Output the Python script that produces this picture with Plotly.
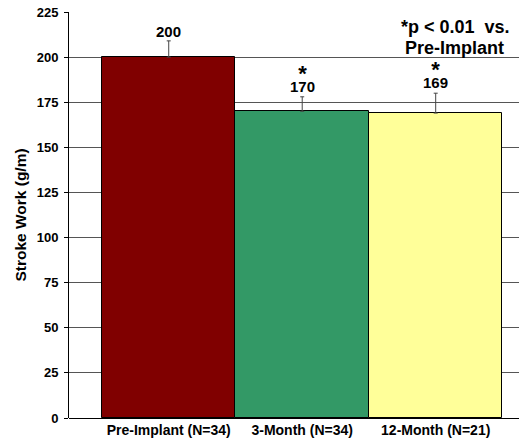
import plotly.graph_objects as go

categories = ["Pre-Implant (N=34)", "3-Month (N=34)", "12-Month (N=21)"]
values = [200, 170, 169]
errors = [9, 8, 11]
stars = ["", "*", "*"]
colors = ["#800000", "#339966", "#FFFF99"]
y_ticks = [0, 25, 50, 75, 100, 125, 150, 175, 200, 225]
note_lines = ["*p &lt; 0.01  vs.", "Pre-Implant"]

FONT = "Liberation Sans, Arial, sans-serif"

fig = go.Figure()
fig.add_trace(go.Bar(
    x=list(range(len(categories))),
    y=values,
    marker=dict(color=colors, line=dict(color="black", width=1)),
    width=1.0,
    error_y=dict(type="data", array=errors, arrayminus=[0] * len(errors),
                 symmetric=False, color="#444", thickness=1, width=2),
    showlegend=False,
    hoverinfo="skip",
))

for i, (v, e, s) in enumerate(zip(values, errors, stars)):
    if s:
        txt = ("<span style='font-size:22px'><b>%s</b></span><br>"
               "<span style='font-size:15px'><b>%d</b></span>") % (s, v)
        size = 8.4
        shift = 0
    else:
        txt = "<b>%d</b>" % v
        size = 15
        shift = -1
    fig.add_annotation(x=i, y=v + e, yshift=shift, text=txt,
                       showarrow=False, yanchor="bottom", align="center",
                       font=dict(family=FONT, size=size, color="black"))

fig.add_annotation(xref="x", yref="y", x=2.15, y=216.7, text="<b>%s</b>" % note_lines[0],
                   showarrow=False, xanchor="center", yanchor="middle",
                   font=dict(family=FONT, size=18, color="black"))
fig.add_annotation(xref="x", yref="y", x=2.14, y=205.0, text="<b>%s</b>" % note_lines[1],
                   showarrow=False, xanchor="center", yanchor="middle",
                   font=dict(family=FONT, size=18, color="black"))

fig.update_layout(
    width=519, height=442,
    margin=dict(l=69, r=0, t=12, b=24),
    paper_bgcolor="white", plot_bgcolor="white",
    font=dict(family=FONT, color="black"),
    bargap=0,
    xaxis=dict(
        range=[-0.747, 2.624],
        tickmode="array",
        tickvals=list(range(len(categories))),
        ticktext=["<b>%s</b>" % c for c in categories],
        tickfont=dict(family=FONT, size=14, color="black"),
        ticklabelstandoff=2,
        showgrid=False, zeroline=False, showline=False, ticks="",
        fixedrange=True,
    ),
    yaxis=dict(
        range=[0, 225],
        tickmode="array",
        tickvals=y_ticks,
        ticktext=["<b>%d</b>" % t for t in y_ticks],
        tickfont=dict(family=FONT, size=13, color="black"),
        ticklabelstandoff=3,
        ticks="outside", ticklen=4, tickcolor="black",
        showgrid=True, gridcolor="#555", gridwidth=1,
        showline=True, linecolor="black", linewidth=1,
        zeroline=True, zerolinecolor="black", zerolinewidth=1,
        title=dict(text="<b>Stroke Work (g/m)</b>", standoff=6,
                   font=dict(family=FONT, size=15.5, color="black")),
        fixedrange=True,
    ),
)

fig.write_html("out.html", config={"displayModeBar": False},
               post_script="document.body.style.margin='0';document.body.style.overflow='hidden';")
